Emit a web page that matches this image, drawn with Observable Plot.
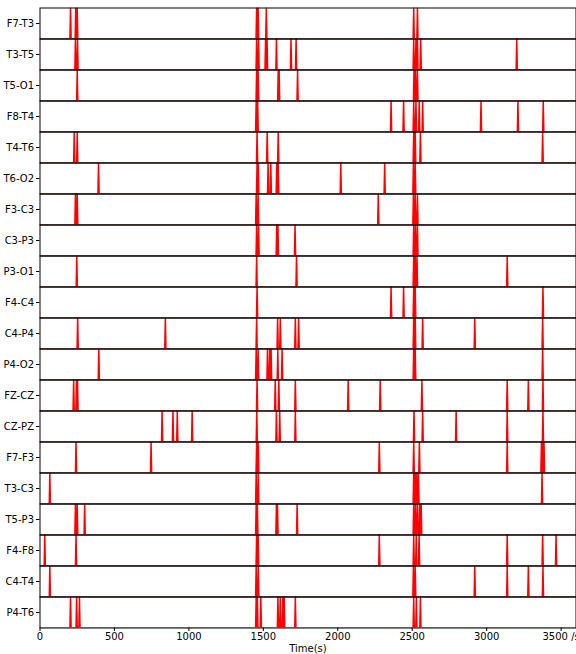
<!DOCTYPE html>
<html>
<head>
<meta charset="utf-8">
<script src="https://cdn.jsdelivr.net/npm/d3@7"></script>
<script src="https://cdn.jsdelivr.net/npm/@observablehq/plot@0.6"></script>
<style>
  body { margin: 0; background: #fff; }
  #chart svg { display: block; overflow: hidden; }
</style>
</head>
<body>
<div id="chart"></div>
<script>
// EEG channels, top to bottom
const channels = [
  "F7-T3", "T3-T5", "T5-O1", "F8-T4", "T4-T6", "T6-O2", "F3-C3", "C3-P3", "P3-O1", "F4-C4",
  "C4-P4", "P4-O2", "FZ-CZ", "CZ-PZ", "F7-F3", "T3-C3", "T5-P3", "F4-F8", "C4-T4", "P4-T6"
];

// Detection times (s) for each channel, in the same order as `channels`
const detections = [
  [205, 240, 250, 1455, 1465, 1520, 2510, 2535],
  [238, 252, 1455, 1468, 1515, 1525, 1588, 1686, 1720, 2510, 2525, 2535, 2557, 3202],
  [250, 1455, 1465, 1600, 1606, 1730, 2512, 2522, 2535],
  [1452, 1462, 2358, 2442, 2510, 2525, 2547, 2570, 2962, 3210, 3380],
  [230, 250, 1458, 1526, 1600, 2510, 2520, 2555, 3376],
  [393, 1458, 1466, 1532, 1550, 1590, 1600, 2020, 2315, 2508, 2520],
  [238, 250, 1452, 1465, 2272, 2508, 2520, 2535],
  [1455, 1468, 1590, 1598, 1713, 2510, 2522, 2535],
  [247, 1455, 1723, 2510, 2520, 2532, 3138],
  [1458, 2358, 2442, 2510, 2520, 3378],
  [253, 842, 1455, 1596, 1614, 1715, 1737, 2510, 2520, 2570, 2920, 3376],
  [395, 1452, 1465, 1528, 1543, 1552, 1597, 1626, 2510, 2520, 3376],
  [226, 245, 252, 1458, 1580, 1604, 1715, 2070, 2285, 2565, 3138, 3280, 3378],
  [820, 893, 922, 1022, 1456, 1588, 1610, 1715, 2512, 2570, 2795, 3138, 3378],
  [242, 746, 1455, 1466, 2279, 2510, 2548, 3138, 3368, 3378, 3385],
  [66, 1452, 1466, 2510, 2520, 2530, 2542, 3372],
  [238, 250, 300, 1452, 1460, 1588, 1595, 1727, 2510, 2522, 2535, 2550, 2560],
  [32, 242, 1455, 1465, 2279, 2510, 2527, 2546, 3138, 3376, 3466],
  [66, 1452, 1466, 2508, 2520, 2920, 3138, 3280, 3378],
  [205, 246, 265, 1452, 1460, 1483, 1598, 1614, 1631, 1640, 1715, 2510, 2528, 2555]
];

// Time axis
const timeStart = 0;
const timeEnd = 3600;
const timeTicks = [0, 500, 1000, 1500, 2000, 2500, 3000, 3500];

// Each detection is a one-sample pulse of the 0/1 indicator signal
const halfPulse = 4; // seconds either side of the peak

const rows = [];
channels.forEach((channel, i) => {
  const times = detections[i].slice().sort((a, b) => a - b);
  rows.push({channel, t: timeStart, v: 0});
  for (const t of times) {
    rows.push({channel, t: t - halfPulse, v: 0});
    rows.push({channel, t, v: 1});
    rows.push({channel, t: t + halfPulse, v: 0});
  }
  rows.push({channel, t: timeEnd, v: 0});
});

const chart = Plot.plot({
  width: 576,
  height: 654,
  marginTop: 7.5,
  marginBottom: 26.5,
  marginLeft: 39.5,
  marginRight: 0.5,
  style: {fontFamily: "DejaVu Sans, sans-serif", fontSize: "10px", color: "#000", background: "#fff"},
  facet: {data: rows, y: "channel"},
  fy: {domain: channels, padding: 0, round: false, axis: "left", label: null, tickSize: 3.5, tickPadding: 2.5},
  x: {
    domain: [timeStart, timeEnd],
    ticks: timeTicks,
    tickFormat: d => d === 3500 ? "3500 /s" : String(d),
    tickSize: 3.5,
    tickPadding: 1.2,
    label: "Time(s)",
    labelAnchor: "center",
    labelArrow: "none"
  },
  y: {domain: [0, 1], axis: null},
  marks: [
    Plot.line(rows, {x: "t", y: "v", z: "channel", stroke: "#ff0000", strokeWidth: 1.5, curve: "linear", clip: true}),
    Plot.frame({stroke: "#000", strokeWidth: 1})
  ]
});

// plain axis title, without the direction arrow
d3.select(chart).selectAll("text")
  .filter(function () { return this.textContent.includes("Time(s)"); })
  .each(function () {
    const tspans = d3.select(this).selectAll("tspan");
    if (tspans.empty()) this.textContent = "Time(s)";
    else tspans.each(function () { if (this.textContent.includes("Time(s)")) this.textContent = "Time(s)"; });
  });

document.getElementById("chart").appendChild(chart);
</script>
</body>
</html>
